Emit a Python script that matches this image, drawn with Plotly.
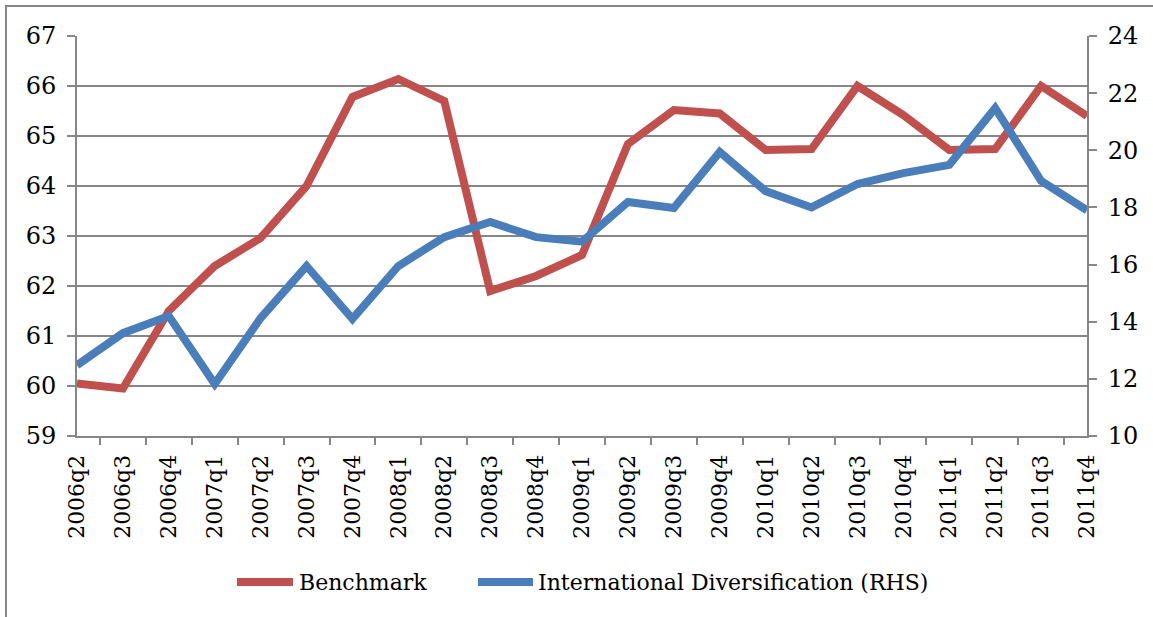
import plotly.graph_objects as go

quarters = ["2006q2", "2006q3", "2006q4", "2007q1", "2007q2", "2007q3", "2007q4",
            "2008q1", "2008q2", "2008q3", "2008q4", "2009q1", "2009q2", "2009q3",
            "2009q4", "2010q1", "2010q2", "2010q3", "2010q4", "2011q1", "2011q2",
            "2011q3", "2011q4"]
benchmark = [60.05, 59.95, 61.5, 62.4, 62.96, 64.0, 65.78, 66.14, 65.7, 61.9, 62.2,
             62.62, 64.84, 65.52, 65.45, 64.72, 64.74, 66.0, 65.42, 64.72, 64.74,
             66.0, 65.4]
intl_div = [12.48, 13.6, 14.2, 11.82, 14.13, 15.95, 14.1, 15.95, 16.96, 17.49, 16.96,
            16.8, 18.19, 17.98, 19.94, 18.57, 18.0, 18.82, 19.2, 19.49, 21.48, 18.93,
            17.9]
left_ticks = [59, 60, 61, 62, 63, 64, 65, 66, 67]
right_ticks = [10, 12, 14, 16, 18, 20, 22, 24]
series_names = ["Benchmark", "International Diversification (RHS)"]

RED = "#C0504D"
BLUE = "#4A7EBB"
GRAY = "#868686"
FONT = "DejaVu Serif"

# plot area in pixels
L, R, T, B = 77, 1087, 36, 436
W, H = R - L, B - T


def px(x):
    return (x - L) / W


def py(y):
    return (B - y) / H


fig = go.Figure()
fig.add_trace(go.Scatter(x=quarters, y=benchmark, name=series_names[0], mode="lines",
                         line=dict(color=RED, width=8), yaxis="y", showlegend=False))
fig.add_trace(go.Scatter(x=quarters, y=intl_div, name=series_names[1],
                         mode="lines", line=dict(color=BLUE, width=8), yaxis="y2",
                         showlegend=False))

shapes = [dict(type="rect", xref="paper", yref="paper",
               x0=px(6), x1=px(1170), y0=py(640), y1=py(6),
               line=dict(color=GRAY, width=2), layer="below")]
annotations = []
legend_items = [(RED, 237, 293, 297, series_names[0]),
                (BLUE, 478, 533, 536, series_names[1])]
for color, lx0, lx1, tx, name in legend_items:
    shapes.append(dict(type="line", xref="paper", yref="paper",
                       x0=px(lx0), x1=px(lx1), y0=py(582), y1=py(582),
                       line=dict(color=color, width=8)))
    annotations.append(dict(xref="paper", yref="paper", x=px(tx), y=py(582),
                            xanchor="left", yanchor="middle", showarrow=False,
                            text=name, font=dict(family=FONT, size=22, color="black")))

fig.update_layout(
    width=1153, height=617,
    margin=dict(l=L, r=1153 - R, t=T, b=617 - B, autoexpand=False),
    paper_bgcolor="white", plot_bgcolor="white",
    font=dict(family=FONT, size=22, color="black"),
    showlegend=False,
    xaxis=dict(type="category", tickangle=-90, showgrid=False, showline=True,
               linecolor=GRAY, linewidth=2, ticks="outside", ticklen=7, tickcolor=GRAY,
               tickwidth=2, tickson="boundaries", ticklabelstandoff=8, automargin=False,
               tickfont=dict(family=FONT, size=22)),
    yaxis=dict(range=[59, 67], tickvals=left_ticks, showgrid=True, gridcolor=GRAY,
               gridwidth=2, showline=True, linecolor=GRAY, linewidth=2, ticks="outside",
               ticklen=8, tickcolor=GRAY, tickwidth=2, zeroline=False, automargin=False,
               ticklabelstandoff=6, tickfont=dict(family=FONT, size=24)),
    yaxis2=dict(range=[10, 24], tickvals=right_ticks, overlaying="y", side="right",
                showgrid=False, showline=True, linecolor=GRAY, linewidth=2,
                ticks="outside", ticklen=8, tickcolor=GRAY, tickwidth=2, zeroline=False,
                automargin=False, ticklabelstandoff=6,
                tickfont=dict(family=FONT, size=24)),
    shapes=shapes,
    annotations=annotations,
)

fig.write_html("out.html", config={"displayModeBar": False},
               post_script="document.body.style.margin='0';")
